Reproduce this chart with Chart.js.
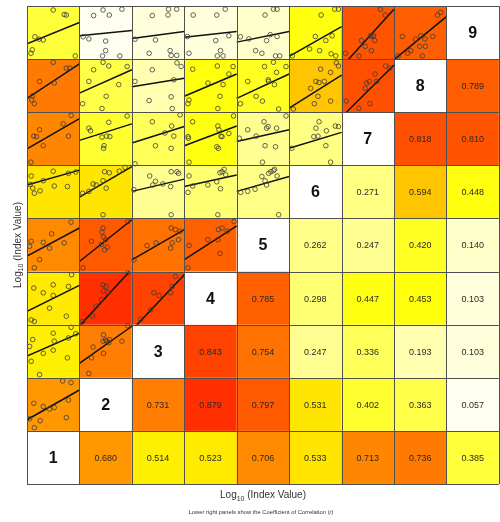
<!DOCTYPE html>
<html>
<head>
<meta charset="utf-8">
<script src="https://cdn.jsdelivr.net/npm/chart.js@4"></script>
<style>
  body { margin: 0; background: #fff; }
  #wrap { width: 500px; height: 522px; }
</style>
</head>
<body>
<div id="wrap"><canvas id="grafico" width="500" height="522"></canvas></div>
<script>
// variable names on the diagonal
const variableLabels = ["1", "2", "3", "4", "5", "6", "7", "8", "9"]

// coefficient of correlation, row r (from bottom) against columns r+1..9
const corrRow1 = [0.680, 0.514, 0.523, 0.706, 0.533, 0.713, 0.736, 0.385]
const corrRow2 = [0.731, 0.879, 0.797, 0.531, 0.402, 0.363, 0.057]
const corrRow3 = [0.843, 0.754, 0.247, 0.336, 0.193, 0.103]
const corrRow4 = [0.785, 0.298, 0.447, 0.453, 0.103]
const corrRow5 = [0.262, 0.247, 0.420, 0.140]
const corrRow6 = [0.271, 0.594, 0.448]
const corrRow7 = [0.818, 0.810]
const corrRow8 = [0.789]

// scatter panels, row r (from bottom), columns 1..r-1
// each point is [x, y] inside its panel, 0..1
const scatterRow9 = [
    [[.50,.925],[.71,.84],[.75,.83],[.15,.42],[.23,.375],[.31,.36],[.10,.175],[.075,.11],[.92,.06]],
    [[.45,.925],[.81,.94],[.27,.82],[.57,.83],[.07,.42],[.18,.38],[.50,.34],[.50,.16],[.44,.06],[.77,.06]],
    [[.70,.94],[.855,.94],[.69,.83],[.39,.82],[.06,.375],[.45,.36],[.33,.11],[.73,.16],[.75,.07],[.855,.07]],
    [[.17,.83],[.62,.83],[.78,.94],[.06,.425],[.60,.35],[.85,.44],[.09,.11],[.69,.16],[.63,.06],[.74,.06]],
    [[.70,.94],[.77,.94],[.54,.83],[.64,.46],[.77,.425],[.07,.42],[.23,.38],[.57,.35],[.36,.16],[.48,.11],[.74,.06],[.82,.06]],
    [[.61,.83],[.87,.94],[.94,.94],[.50,.425],[.82,.44],[.70,.35],[.39,.19],[.58,.16],[.80,.10],[.89,.06],[.06,.06]],
    [[.74,.94],[.83,.83],[.38,.35],[.55,.44],[.58,.425],[.61,.44],[.63,.35],[.45,.24],[.57,.16],[.075,.11],[.33,.06]],
    [[.83,.83],[.89,.88],[.16,.425],[.41,.375],[.51,.44],[.59,.38],[.74,.425],[.49,.24],[.60,.24],[.32,.16],[.26,.11],[.54,.06],[.08,.06]]
]
const scatterRow8 = [
    [[.50,.94],[.75,.83],[.82,.83],[.24,.58],[.52,.55],[.11,.31],[.09,.23],[.14,.16]],
    [[.45,.94],[.27,.80],[.56,.87],[.91,.86],[.18,.58],[.75,.52],[.51,.30],[.06,.16],[.43,.07]],
    [[.39,.80],[.06,.58],[.33,.22],[.86,.93],[.94,.86],[.80,.61],[.75,.29],[.77,.07]],
    [[.16,.81],[.45,.55],[.63,.87],[.85,.72],[.74,.52],[.68,.30],[.09,.23],[.07,.16],[.64,.07],[.93,.86]],
    [[.21,.58],[.53,.86],[.70,.94],[.76,.75],[.60,.61],[.61,.58],[.72,.52],[.37,.30],[.49,.21],[.07,.16],[.80,.06],[.94,.86]],
    [[.60,.81],[.79,.75],[.51,.58],[.57,.56],[.41,.45],[.55,.30],[.48,.16],[.79,.21],[.08,.06],[.67,.58],[.90,.93],[.94,.87]],
    [[.84,.87],[.92,.83],[.64,.72],[.48,.55],[.53,.58],[.45,.45],[.67,.58],[.09,.21],[.54,.16],[.33,.075]]
]
const scatterRow7 = [
    [[.84,.94],[.69,.78],[.24,.67],[.13,.55],[.18,.54],[.79,.55],[.31,.37],[.075,.06]],
    [[.91,.93],[.56,.81],[.18,.70],[.21,.65],[.52,.55],[.58,.54],[.43,.53],[.47,.37],[.46,.32]],
    [[.39,.82],[.45,.37],[.63,.61],[.92,.95],[.76,.74],[.80,.55],[.75,.32],[.06,.03]],
    [[.16,.82],[.64,.74],[.66,.67],[.70,.55],[.72,.54],[.85,.60],[.62,.35],[.65,.32],[.08,.51],[.07,.54],[.09,.06],[.94,.93]],
    [[.21,.67],[.37,.55],[.52,.82],[.60,.73],[.57,.70],[.76,.70],[.94,.93],[.05,.51],[.54,.37],[.74,.35],[.49,.06]],
    [[.57,.82],[.51,.70],[.47,.54],[.55,.55],[.71,.65],[.70,.37],[.05,.32],[.79,.06],[.88,.74],[.94,.73]]
]
const scatterRow6 = [
    [[.08,.80],[.50,.89],[.79,.85],[.93,.875],[.31,.71],[.06,.64],[.14,.475],[.25,.52],[.11,.57],[.52,.61],[.77,.60]],
    [[.26,.65],[.18,.51],[.06,.475],[.32,.63],[.45,.71],[.48,.88],[.57,.86],[.76,.89],[.87,.96],[.51,.57],[.45,.07]],
    [[.34,.80],[.40,.63],[.45,.70],[.59,.65],[.04,.54],[.75,.88],[.86,.88],[.89,.85],[.74,.60],[.75,.07]],
    [[.09,.80],[.07,.49],[.16,.61],[.45,.63],[.62,.69],[.68,.86],[.72,.88],[.76,.925],[.79,.82],[.69,.56],[.64,.07]],
    [[.075,.49],[.21,.51],[.35,.55],[.48,.79],[.57,.63],[.61,.85],[.65,.88],[.70,.90],[.72,.925],[.77,.80],[.54,.71],[.80,.07]]
]
const scatterRow5 = [
    [[.84,.93],[.47,.71],[.31,.55],[.08,.57],[.05,.475],[.43,.44],[.71,.54],[.24,.225],[.14,.07]],
    [[.92,.94],[.45,.82],[.43,.74],[.46,.65],[.50,.60],[.42,.51],[.53,.46],[.23,.57],[.07,.07],[.48,.41]],
    [[.29,.49],[.46,.54],[.75,.82],[.83,.79],[.92,.76],[.89,.60],[.77,.54],[.74,.44],[.04,.22]],
    [[.09,.49],[.45,.60],[.65,.79],[.72,.82],[.82,.76],[.95,.94],[.64,.60],[.68,.34],[.07,.07]]
]
const scatterRow4 = [
    [[.85,.94],[.13,.69],[.31,.60],[.50,.75],[.50,.55],[.43,.31],[.79,.72],[.75,.16],[.08,.09],[.14,.06]],
    [[.92,.975],[.45,.75],[.51,.72],[.46,.63],[.54,.61],[.42,.47],[.32,.35],[.25,.16],[.06,.06]],
    [[.42,.60],[.52,.55],[.36,.28],[.17,.10],[.77,.72],[.83,.91],[.74,.60]]
]
const scatterRow3 = [
    [[.50,.84],[.79,.75],[.93,.83],[.11,.72],[.05,.59],[.52,.69],[.31,.46],[.08,.31],[.77,.375],[.50,.52],[.24,.06],[.84,.95]],
    [[.46,.81],[.57,.72],[.50,.71],[.52,.69],[.45,.69],[.56,.66],[.26,.58],[.23,.375],[.46,.46],[.81,.69],[.18,.08],[.92,.98]]
]
const scatterRow2 = [
    [[.68,.94],[.84,.91],[.13,.52],[.31,.46],[.43,.41],[.52,.44],[.79,.58],[.75,.25],[.25,.19],[.05,.23],[.14,.06]]
]

// fitted line of each panel: [y at left edge, y at right edge]
const fitRow9 = [[.29,.69],[.44,.54],[.39,.52],[.41,.52],[.32,.52],[.05,.61],[-.15,.94],[-.01,.80]]
const fitRow8 = [[.26,.91],[.36,.80],[.48,.64],[.30,.72],[.26,.72],[.075,.70],[-.09,.89]]
const fitRow7 = [[.31,.88],[.47,.78],[.42,.73],[.37,.74],[.45,.67],[.32,.62]]
const fitRow6 = [[.63,.91],[.40,.975],[.51,.74],[.60,.82],[.51,.79]]
const fitRow5 = [[.29,.82],[.19,.975],[.22,.79],[.225,.86]]
const fitRow4 = [[.25,.74],[-.027,1.05],[-.10,.94]]
const fitRow3 = [[.41,.84],[.27,.97]]
const fitRow2 = [[.21,.77]]

const corrRows = [null, corrRow1, corrRow2, corrRow3, corrRow4, corrRow5, corrRow6, corrRow7, corrRow8]
const scatterRows = [null, null, scatterRow2, scatterRow3, scatterRow4, scatterRow5, scatterRow6, scatterRow7, scatterRow8, scatterRow9]
const fitRows = [null, null, fitRow2, fitRow3, fitRow4, fitRow5, fitRow6, fitRow7, fitRow8, fitRow9]

const fonte = "'Liberation Sans', Arial, sans-serif"

function correlacao(a, b) {
    const lo = Math.min(a, b), hi = Math.max(a, b)
    return corrRows[lo][hi - lo - 1]
}

// heat colours: red for high r, yellow in the middle, pale for low r
function cor_celula(v) {
    if (v >= 0.5) {
        const hue = Math.min(60, 62 * (1 - v) / 0.5 - 4)
        return `hsl(${hue.toFixed(1)}, 100%, 50%)`
    }
    const s = Math.pow(Math.min(1, v / 0.47), 1.3)
    const b = Math.round(255 * (1 - s))
    return `rgb(255, 255, ${b})`
}

// keep the fitted line inside its panel
function recortar(a, b) {
    let lo = 0, hi = 1
    const m = b - a
    if (Math.abs(m) > 1e-9) {
        const x0 = (0 - a) / m, x1 = (1 - a) / m
        lo = Math.max(0, Math.min(x0, x1))
        hi = Math.min(1, Math.max(x0, x1))
    }
    return [[lo, a + m * lo], [hi, a + m * hi]]
}

const datasets = []
for (let r = 2; r <= 9; r++) {
    for (let c = 1; c < r; c++) {
        const pts = scatterRows[r][c - 1]
        datasets.push({
            data: pts.map(p => ({ x: c - 1 + p[0], y: r - 1 + p[1] })),
            showLine: false,
            pointRadius: 2.3,
            pointBorderWidth: 0.8,
            pointBorderColor: "#3c3c3c",
            pointBackgroundColor: "rgba(0,0,0,0)",
        })
        const fit = fitRows[r][c - 1]
        const seg = recortar(fit[0], fit[1])
        datasets.push({
            data: seg.map(p => ({ x: c - 1 + p[0], y: r - 1 + p[1] })),
            showLine: true,
            borderColor: "#111",
            borderWidth: 1.5,
            pointRadius: 0,
        })
    }
}

const paineis = {
    id: "paineis",
    beforeDatasetsDraw(chart) {
        const { ctx, scales: { x, y } } = chart
        ctx.save()
        for (let r = 1; r <= 9; r++) {
            for (let c = 1; c <= 9; c++) {
                const x0 = x.getPixelForValue(c - 1), x1 = x.getPixelForValue(c)
                const y0 = y.getPixelForValue(r), y1 = y.getPixelForValue(r - 1)
                ctx.fillStyle = c === r ? "#ffffff" : cor_celula(correlacao(c, r))
                ctx.fillRect(x0, y0, x1 - x0, y1 - y0)
            }
        }
        ctx.restore()
    },
    afterDatasetsDraw(chart) {
        const { ctx, scales: { x, y } } = chart
        ctx.save()
        // cell borders
        ctx.strokeStyle = "#505050"
        ctx.lineWidth = 1
        for (let i = 0; i <= 9; i++) {
            const px = Math.round(x.getPixelForValue(i)) + 0.5
            const py = Math.round(y.getPixelForValue(i)) + 0.5
            ctx.beginPath()
            ctx.moveTo(px, y.getPixelForValue(0))
            ctx.lineTo(px, y.getPixelForValue(9))
            ctx.stroke()
            ctx.beginPath()
            ctx.moveTo(x.getPixelForValue(0), py)
            ctx.lineTo(x.getPixelForValue(9), py)
            ctx.stroke()
        }
        ctx.textAlign = "center"
        ctx.textBaseline = "middle"
        // diagonal labels
        ctx.fillStyle = "#111"
        ctx.font = `bold 16px ${fonte}`
        for (let i = 1; i <= 9; i++) {
            ctx.fillText(variableLabels[i - 1], x.getPixelForValue(i - 0.5), y.getPixelForValue(i - 0.5) + 1)
        }
        // correlation values
        ctx.fillStyle = "#2a2a2a"
        ctx.font = `9px ${fonte}`
        for (let r = 1; r <= 8; r++) {
            corrRows[r].forEach((v, k) => {
                const c = r + 1 + k
                ctx.fillText(v.toFixed(3), x.getPixelForValue(c - 0.5), y.getPixelForValue(r - 0.5) + 1)
            })
        }
        ctx.restore()
    },
    afterDraw(chart) {
        const { ctx } = chart
        ctx.save()
        ctx.fillStyle = "#333"
        ctx.textBaseline = "alphabetic"
        // axis titles with subscript 10
        const titulo = (cx, cy) => {
            const a = "Log", s = "10", b = " (Index Value)"
            ctx.font = `10px ${fonte}`
            const wa = ctx.measureText(a).width, wb = ctx.measureText(b).width
            ctx.font = `7px ${fonte}`
            const ws = ctx.measureText(s).width
            let px = cx - (wa + ws + wb) / 2
            ctx.textAlign = "left"
            ctx.font = `10px ${fonte}`
            ctx.fillText(a, px, cy)
            ctx.font = `7px ${fonte}`
            ctx.fillText(s, px + wa, cy + 2.5)
            ctx.font = `10px ${fonte}`
            ctx.fillText(b, px + wa + ws, cy)
        }
        titulo(263, 498)
        ctx.save()
        ctx.translate(20.5, 245)
        ctx.rotate(-Math.PI / 2)
        titulo(0, 0)
        ctx.restore()
        // caption
        const cap = "Lower right panels show the Coefficient of Correlation (", r = "r", fim = ")"
        ctx.font = `5.8px ${fonte}`
        const w1 = ctx.measureText(cap).width
        ctx.font = `italic 5.8px ${fonte}`
        const w2 = ctx.measureText(r).width
        ctx.font = `5.8px ${fonte}`
        const w3 = ctx.measureText(fim).width
        let px = 261 - (w1 + w2 + w3) / 2
        ctx.textAlign = "left"
        ctx.fillText(cap, px, 514)
        ctx.font = `italic 5.8px ${fonte}`
        ctx.fillText(r, px + w1, 514)
        ctx.font = `5.8px ${fonte}`
        ctx.fillText(fim, px + w1 + w2, 514)
        ctx.restore()
    }
}

new Chart(document.getElementById("grafico"), {
    type: "scatter",
    data: { datasets: datasets },
    options: {
        responsive: false,
        animation: false,
        layout: { padding: { left: 27, top: 6, right: 0, bottom: 38 } },
        scales: {
            x: { type: "linear", min: 0, max: 8.93, display: false },
            y: { type: "linear", min: 0, max: 9, display: false }
        },
        plugins: {
            legend: { display: false },
            tooltip: { enabled: false },
            title: { display: false }
        }
    },
    plugins: [paineis]
})
</script>
</body>
</html>
